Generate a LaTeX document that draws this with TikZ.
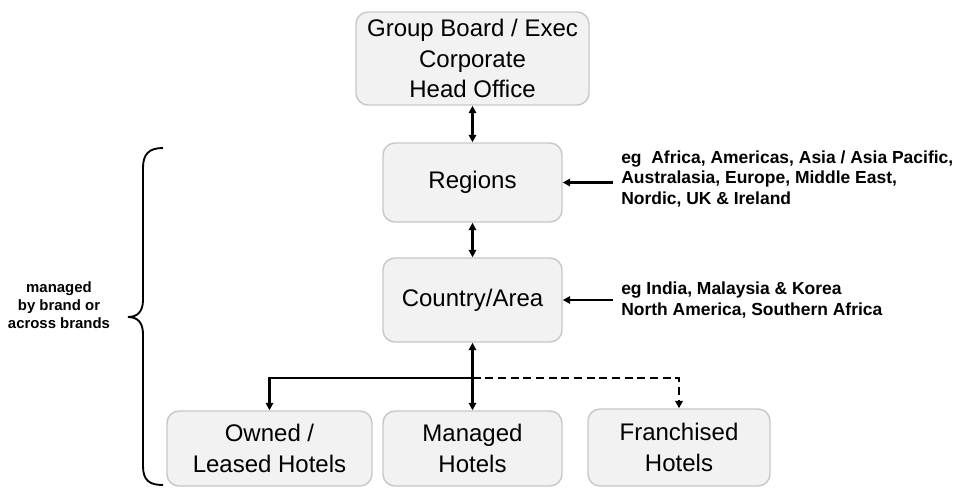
\documentclass[tikz,border=0pt]{standalone}
\usepackage{fontspec}
\setmainfont{Liberation Sans}
\usetikzlibrary{arrows.meta}
\definecolor{boxfill}{HTML}{F2F2F2}
\definecolor{boxline}{HTML}{C8C8C8}
\begin{document}
\begin{tikzpicture}[x=0.75pt,y=-0.75pt,
  box/.style={draw=boxline,fill=boxfill,line width=1.1pt,rounded corners=9pt,
    align=center,inner sep=0pt,font=\fontsize{18}{23}\selectfont},
  lbl/.style={align=left,anchor=west,inner sep=0pt,font=\bfseries\fontsize{13.1}{15.3}\selectfont},
  arr/.style={line width=1.7pt,-{Triangle[length=5.5pt,width=5.5pt]}},
  darr/.style={line width=1.7pt,{Triangle[length=5.5pt,width=5.5pt]}-{Triangle[length=5.5pt,width=5.5pt]}}]
\useasboundingbox (0,0) rectangle (968,487);
% boxes
\node[box,minimum width=174.75pt,minimum height=69.75pt] (top) at (472.5,58.5)
  {Group Board / Exec\\Corporate\\Head Office};
\node[box,minimum width=134.25pt,minimum height=59.25pt] (reg) at (472.5,182.5) {Regions};
\node[box,minimum width=134.25pt,minimum height=63pt] (cty) at (472.5,300) {Country/Area};
\node[box,minimum width=153.75pt,minimum height=56.25pt] (own) at (269.5,448.5) {Owned /\\Leased Hotels};
\node[box,minimum width=134.25pt,minimum height=56.25pt] (man) at (472.5,448.5) {Managed\\Hotels};
\node[box,minimum width=136.5pt,minimum height=57.75pt] (fra) at (679,447.5) {Franchised\\Hotels};
% connectors
\draw[darr] (top.south) -- (reg.north);
\draw[darr] (reg.south) -- (cty.north);
\draw[darr] (cty.south) -- (man.north);
\coordinate (j) at (472.5,378);
\draw[arr] (j) -| (own.north);
\draw[arr,dash pattern=on 6pt off 3.5pt] (j) -| (fra.north);
% side labels
\node[lbl] (l1) at (621,179) {eg\ \ Africa, Americas, Asia / Asia Pacific,\\Australasia, Europe, Middle East,\\Nordic, UK \& Ireland};
\node[lbl] (l2) at (621,300) {eg India, Malaysia \& Korea\\North America, Southern Africa};
\coordinate (a1) at (613,182.5);
\coordinate (a2) at (613,300);
\draw[arr] (a1) -- (reg.east);
\draw[arr] (a2) -- (cty.east);
% brace
\draw[line width=1.4pt] (163,148) .. controls (149,148) and (143,154) .. (143,168)
  -- (143,300) .. controls (143,312) and (137,317) .. (128,317)
  .. controls (137,317) and (143,322) .. (143,334)
  -- (143,466) .. controls (143,480) and (149,485) .. (163,485);
\node[align=center,inner sep=0pt,font=\bfseries\fontsize{11.2}{13.5}\selectfont] (bl) at (59,305)
  {managed\\by brand or\\across brands};
\end{tikzpicture}
\end{document}
